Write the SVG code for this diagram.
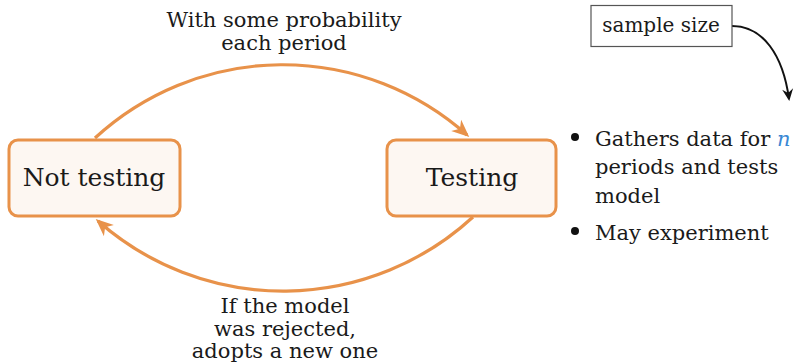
<svg xmlns="http://www.w3.org/2000/svg" width="802" height="362" viewBox="0 0 802 362">
  <style>
    text { font-family: "DejaVu Serif", "Liberation Serif", serif; fill: #1a1a1a; }
    .state rect { fill: #FDF7F2; stroke: #E8924A; stroke-width: 3; }
    .state text { font-size: 25px; text-anchor: middle; }
    .label text { font-size: 21px; text-anchor: middle; }
    .bullet text { font-size: 21px; }
    .flow { fill: none; stroke: #E8924A; stroke-width: 3.2; }
    .note { fill: none; stroke: #111; stroke-width: 2; }
  </style>
  <defs>
    <marker id="orange-tip" markerUnits="userSpaceOnUse" orient="auto" viewBox="-19 -9 21 18" refX="-3" refY="0" markerWidth="21" markerHeight="18">
      <path d="M0,0 L-17.5,-7.5 L-12.5,0 L-17.5,7.5 Z" fill="#E8924A"/>
    </marker>
    <marker id="black-tip" markerUnits="userSpaceOnUse" orient="auto" viewBox="-13 -7 15 14" refX="-2" refY="0" markerWidth="15" markerHeight="14">
      <path d="M0,0 L-12,-5.5 L-8,0 L-12,5.5 Z" fill="#111"/>
    </marker>
  </defs>

  <!-- connectors -->
  <g id="connectors">
    <path class="flow" d="M95,138 A277,277 0 0 1 467,135" marker-end="url(#orange-tip)"/>
    <path class="flow" d="M473,217 A280,280 0 0 1 98,221" marker-end="url(#orange-tip)"/>
    <path class="note" d="M732,26 C763,26 783,55 789,99" marker-end="url(#black-tip)"/>
  </g>

  <!-- edge labels -->
  <g id="label-enter" class="label">
    <text x="284" y="27">With some probability</text>
    <text x="284" y="50">each period</text>
  </g>
  <g id="label-exit" class="label">
    <text x="285" y="313">If the model</text>
    <text x="285" y="336">was rejected,</text>
    <text x="285" y="358">adopts a new one</text>
  </g>

  <!-- states -->
  <g id="not-testing" class="state">
    <rect x="9" y="140" width="171" height="76" rx="9"/>
    <text x="94" y="186">Not testing</text>
  </g>
  <g id="testing" class="state">
    <rect x="387" y="140" width="169" height="76" rx="9"/>
    <text x="472" y="186">Testing</text>
  </g>

  <!-- sample size annotation -->
  <g id="sample-size">
    <rect x="591" y="5.5" width="141" height="41" fill="#fff" stroke="#555" stroke-width="1.2"/>
    <text x="661" y="32" font-size="20" text-anchor="middle">sample size</text>
  </g>

  <!-- testing details -->
  <g id="details" class="bullet">
    <circle cx="575" cy="137" r="4" fill="#111"/>
    <text x="595" y="146">Gathers data for <tspan font-style="italic" fill="#3A88D4">n</tspan></text>
    <text x="595" y="174">periods and tests</text>
    <text x="595" y="203">model</text>
    <circle cx="575" cy="231" r="4" fill="#111"/>
    <text x="595" y="240">May experiment</text>
  </g>
</svg>
